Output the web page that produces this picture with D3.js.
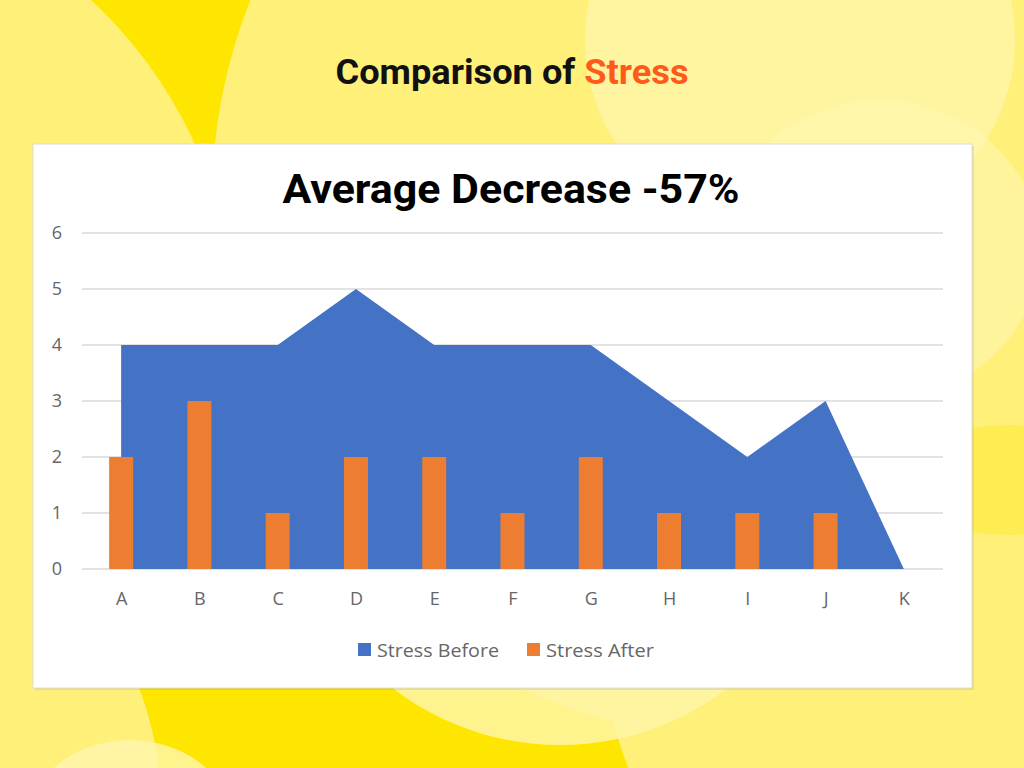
<!DOCTYPE html>
<html>
<head>
<meta charset="utf-8">
<script src="https://cdn.jsdelivr.net/npm/d3@7"></script>
<style>
  html, body { margin: 0; padding: 0; background: #ffe600; }
  svg { display: block; }
</style>
</head>
<body>
<div id="chart"></div>
<script>
// chart data
const categories = ['A', 'B', 'C', 'D', 'E', 'F', 'G', 'H', 'I', 'J', 'K'];
const stressBefore = [4, 4, 4, 5, 4, 4, 4, 3, 2, 3, 0];
const stressAfter = [2, 3, 1, 2, 2, 1, 2, 1, 1, 1, 0];
const yTicks = [0, 1, 2, 3, 4, 5, 6];
const seriesNames = ['Stress Before', 'Stress After'];
const seriesColors = ['#4472c4', '#ed7d31'];

const width = 1024;
const height = 768;
const plot = { left: 82, right: 943, top: 233, bottom: 569 };

const svg = d3.select('#chart')
  .append('svg')
  .attr('width', width)
  .attr('height', height);

// decorative background, soft yellow blobs over bright yellow
const bg = svg.append('g');
bg.append('rect').attr('width', width).attr('height', height).attr('fill', '#ffe600');
const blobs = [
  { cx: -215, cy: 330, rx: 450, ry: 450, fill: '#fff07a', op: 1 },
  { cx: 752, cy: 200, rx: 540, ry: 540, fill: '#fff07a', op: 1 },
  { cx: 1000, cy: 620, rx: 400, ry: 400, fill: '#fff07a', op: 1 },
  { cx: 1010, cy: 480, rx: 110, ry: 55, fill: '#ffeb4a', op: 0.8 },
  { cx: 800, cy: 40, rx: 215, ry: 200, fill: '#fff6a8', op: 0.85 },
  { cx: 880, cy: 250, rx: 160, ry: 150, fill: '#fff6b0', op: 0.6 },
  { cx: -150, cy: 800, rx: 310, ry: 310, fill: '#fff07a', op: 1 },
  { cx: 560, cy: 470, rx: 275, ry: 275, fill: '#fff5a6', op: 0.85 },
  { cx: 130, cy: 840, rx: 110, ry: 100, fill: '#fff6b0', op: 0.8 }
];
bg.selectAll('ellipse')
  .data(blobs)
  .enter()
  .append('ellipse')
  .attr('cx', d => d.cx)
  .attr('cy', d => d.cy)
  .attr('rx', d => d.rx)
  .attr('ry', d => d.ry)
  .attr('fill', d => d.fill)
  .attr('opacity', d => d.op);

// page heading
const heading = svg.append('text')
  .attr('x', 512)
  .attr('y', 84)
  .attr('text-anchor', 'middle')
  .attr('font-family', 'Roboto, sans-serif')
  .attr('font-weight', 700)
  .attr('font-size', 35)
  .attr('textLength', 353)
  .attr('lengthAdjust', 'spacingAndGlyphs');
heading.append('tspan').attr('fill', '#111').text('Comparison of ');
heading.append('tspan').attr('fill', '#ff5a1a').text('Stress');

// white chart panel
svg.append('rect')
  .attr('x', 35)
  .attr('y', 146)
  .attr('width', 939)
  .attr('height', 544)
  .attr('fill', '#000')
  .attr('opacity', 0.08);
svg.append('rect')
  .attr('x', 33)
  .attr('y', 144)
  .attr('width', 939)
  .attr('height', 544)
  .attr('fill', '#ffffff')
  .attr('stroke', '#dcdcdc')
  .attr('stroke-width', 1);

svg.append('text')
  .attr('x', 511)
  .attr('y', 203)
  .attr('text-anchor', 'middle')
  .attr('font-family', 'Roboto, sans-serif')
  .attr('font-weight', 700)
  .attr('font-size', 40)
  .attr('textLength', 457)
  .attr('lengthAdjust', 'spacingAndGlyphs')
  .attr('fill', '#000')
  .text('Average Decrease -57%');

// scales
const x = d3.scalePoint()
  .domain(categories)
  .range([plot.left, plot.right])
  .padding(0.5);
const y = d3.scaleLinear()
  .domain([0, 6])
  .range([plot.bottom, plot.top]);

// gridlines
svg.append('g')
  .selectAll('line')
  .data(yTicks)
  .enter()
  .append('line')
  .attr('x1', plot.left)
  .attr('x2', plot.right)
  .attr('y1', d => y(d))
  .attr('y2', d => y(d))
  .attr('stroke', '#d9d9d9')
  .attr('stroke-width', 1.5);

// y axis labels
const yAxis = svg.append('g')
  .attr('transform', `translate(${plot.left - 20}, 0)`)
  .call(d3.axisLeft(y).tickValues(yTicks).tickFormat(d3.format('d')).tickSize(0).tickPadding(0));
yAxis.select('.domain').remove();
yAxis.selectAll('text')
  .attr('font-family', '"Open Sans", sans-serif')
  .attr('font-size', 18)
  .attr('fill', '#666');

// x axis labels
const xAxis = svg.append('g')
  .attr('transform', `translate(0, ${plot.bottom + 23})`)
  .call(d3.axisBottom(x).tickSize(0).tickPadding(0));
xAxis.select('.domain').remove();
xAxis.selectAll('text')
  .attr('font-family', '"Open Sans", sans-serif')
  .attr('font-size', 18)
  .attr('fill', '#666');

// Stress Before area
const area = d3.area()
  .x((d, i) => x(categories[i]))
  .y0(y(0))
  .y1(d => y(d));
svg.append('path')
  .datum(stressBefore)
  .attr('d', area)
  .attr('fill', seriesColors[0]);

// Stress After bars
const barWidth = 24;
svg.append('g')
  .selectAll('rect')
  .data(stressAfter)
  .enter()
  .append('rect')
  .attr('x', (d, i) => x(categories[i]) - barWidth / 2)
  .attr('y', d => y(d))
  .attr('width', barWidth)
  .attr('height', d => y(0) - y(d))
  .attr('fill', seriesColors[1]);

// legend
const legendItems = [
  { name: seriesNames[0], color: seriesColors[0], x: 358, len: 122 },
  { name: seriesNames[1], color: seriesColors[1], x: 527, len: 108 }
];
const legend = svg.append('g')
  .selectAll('g')
  .data(legendItems)
  .enter()
  .append('g')
  .attr('transform', d => `translate(${d.x}, 643)`);
legend.append('rect')
  .attr('width', 13)
  .attr('height', 13)
  .attr('fill', d => d.color);
legend.append('text')
  .attr('x', 19)
  .attr('y', 14)
  .attr('font-family', '"Open Sans", sans-serif')
  .attr('font-size', 19)
  .attr('fill', '#666')
  .attr('textLength', d => d.len)
  .attr('lengthAdjust', 'spacingAndGlyphs')
  .text(d => d.name);
</script>
</body>
</html>
